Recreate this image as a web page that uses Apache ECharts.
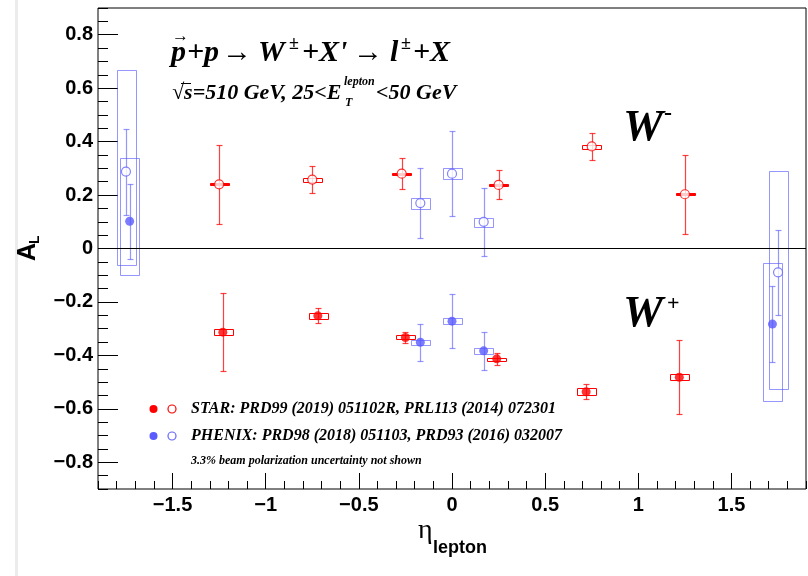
<!DOCTYPE html>
<html>
<head>
<meta charset="utf-8">
<script src="https://cdn.jsdelivr.net/npm/echarts@6/dist/echarts.min.js"></script>
<style>
  html, body { margin: 0; padding: 0; background: #fff; }
  #chart { width: 808px; height: 576px; }
</style>
</head>
<body>
<div id="chart"></div>
<script>
  // STAR W- (open red)
  var starWmEta = [-1.25, -0.75, -0.27, 0.25, 0.75, 1.25];
  var starWmAL = [0.240, 0.258, 0.280, 0.238, 0.382, 0.203];
  var starWmStat = [0.147, 0.051, 0.057, 0.054, 0.051, 0.148];
  var starWmSys = [0.004, 0.007, 0.004, 0.004, 0.007, 0.004];

  // STAR W+ (filled red)
  var starWpEta = [-1.23, -0.72, -0.25, 0.24, 0.72, 1.22];
  var starWpAL = [-0.313, -0.252, -0.333, -0.413, -0.536, -0.482];
  var starWpStat = [0.146, 0.028, 0.022, 0.022, 0.028, 0.138];
  var starWpSys = [0.012, 0.011, 0.008, 0.005, 0.014, 0.012];

  // PHENIX W- (open blue)
  var phxWmEta = [-1.75, -0.17, 0.0, 0.17, 1.75];
  var phxWmAL = [0.288, 0.170, 0.280, 0.100, -0.089];
  var phxWmStat = [0.161, 0.130, 0.160, 0.128, 0.158];
  var phxWmSysUp = [0.381, 0.020, 0.020, 0.016, 0.379];
  var phxWmSysDn = [0.348, 0.020, 0.020, 0.016, 0.437];

  // PHENIX W+ (filled blue)
  var phxWpEta = [-1.73, -0.17, 0.0, 0.17, 1.72];
  var phxWpAL = [0.102, -0.351, -0.272, -0.383, -0.283];
  var phxWpStat = [0.141, 0.070, 0.100, 0.070, 0.141];
  var phxWpSysUp = [0.238, 0.010, 0.011, 0.011, 0.229];
  var phxWpSysDn = [0.199, 0.010, 0.011, 0.011, 0.287];

  var boxHalfWidth = 0.05;
  var xTickLabels = [-1.5, -1, -0.5, 0, 0.5, 1, 1.5];
  var yTickLabels = [-0.8, -0.6, -0.4, -0.2, 0, 0.2, 0.4, 0.6, 0.8];

  var red = '#ff0000';
  var redLine = 'rgba(255,0,0,0.75)';
  var blueFill = '#5a5aff';
  var blueLine = 'rgba(80,80,255,0.6)';

  var chart = echarts.init(document.getElementById('chart'));

  function rows(eta, al, stat, up, dn) {
    return eta.map(function (e, i) { return [e, al[i], stat[i], up[i], dn[i]]; });
  }
  function pts(eta, al) {
    return eta.map(function (e, i) { return [e, al[i]]; });
  }

  function errItem(lineColor, boxColor) {
    return function (params, api) {
      var eta = api.value(0), al = api.value(1), st = api.value(2), up = api.value(3), dn = api.value(4);
      var p = api.coord([eta, al]);
      var t = api.coord([eta, al + st]);
      var b = api.coord([eta, al - st]);
      var b1 = api.coord([eta - boxHalfWidth, al + up]);
      var b2 = api.coord([eta + boxHalfWidth, al - dn]);
      var x = Math.round(p[0]) + 0.5;
      var ty = Math.round(t[1]) + 0.5, by = Math.round(b[1]) + 0.5;
      var cap = 3;
      var bh = Math.max(1, Math.round(b2[1] - b1[1]));
      return {
        type: 'group',
        children: [
          { type: 'rect', shape: { x: Math.round(b1[0]) + 0.5, y: Math.round(b1[1]) + 0.5,
              width: Math.round(b2[0] - b1[0]), height: bh },
            style: { fill: bh <= 2 ? boxColor : 'none', stroke: boxColor, lineWidth: 1 } },
          { type: 'line', shape: { x1: x, y1: ty, x2: x, y2: by }, style: { stroke: lineColor, lineWidth: 1.2 } },
          { type: 'line', shape: { x1: x - cap, y1: ty, x2: x + cap, y2: ty }, style: { stroke: lineColor, lineWidth: 1.2 } },
          { type: 'line', shape: { x1: x - cap, y1: by, x2: x + cap, y2: by }, style: { stroke: lineColor, lineWidth: 1.2 } }
        ]
      };
    };
  }

  var serif = '"Liberation Serif", "Times New Roman", serif';
  var sans = '"Liberation Sans", Arial, sans-serif';
  var minus = function (v) { return String(v).replace('-', '\u2212'); };

  function txt(s, x, y, font) {
    return { type: 'text', x: x, y: y, z: 10, style: { text: s, font: font, fill: '#000', verticalAlign: 'middle' } };
  }
  var tBig = 'italic bold 30px ' + serif;
  var tSup = 'italic bold 18px ' + serif;
  var tMid = 'italic bold 22px ' + serif;

  var option = {
    animation: false,
    grid: { left: 98, right: 2, top: 8, bottom: 87, show: true, borderColor: '#000', borderWidth: 1, containLabel: false },
    xAxis: [{
      type: 'value', min: -1.9, max: 1.9, interval: 0.1, position: 'bottom',
      axisLine: { show: false, onZero: false },
      axisTick: { show: true, inside: true, length: 8, lineStyle: { color: '#000' } },
      axisLabel: { customValues: xTickLabels, formatter: minus, margin: 6,
        fontFamily: sans, fontWeight: 'bold', fontSize: 20, color: '#000' },
      splitLine: { show: false }
    }, {
      type: 'value', min: -1.9, max: 1.9, position: 'bottom',
      axisLine: { show: false, onZero: false },
      axisTick: { show: true, inside: true, length: 16, customValues: xTickLabels, lineStyle: { color: '#000' } },
      axisLabel: { show: false },
      splitLine: { show: false }
    }],
    yAxis: [{
      type: 'value', min: -0.9, max: 0.9, interval: 0.05, position: 'left',
      axisLine: { show: false, onZero: false },
      axisTick: { show: true, inside: true, length: 10, lineStyle: { color: '#000' } },
      axisLabel: { customValues: yTickLabels, formatter: minus, margin: 5,
        fontFamily: sans, fontWeight: 'bold', fontSize: 20, color: '#000' },
      splitLine: { show: false }
    }, {
      type: 'value', min: -0.9, max: 0.9, position: 'left', offset: 0,
      axisLine: { show: false, onZero: false },
      axisTick: { show: true, inside: true, length: 20, customValues: yTickLabels, lineStyle: { color: '#000' } },
      axisLabel: { show: false },
      splitLine: { show: false }
    }],
    series: [
      { type: 'custom', name: 'PHENIX W- err', renderItem: errItem(blueLine, blueLine),
        data: rows(phxWmEta, phxWmAL, phxWmStat, phxWmSysUp, phxWmSysDn), z: 2,
        markLine: { silent: true, symbol: 'none', label: { show: false },
          lineStyle: { color: '#000', width: 1, type: 'solid' }, data: [{ yAxis: 0 }] } },
      { type: 'custom', name: 'PHENIX W+ err', renderItem: errItem(blueLine, blueLine),
        data: rows(phxWpEta, phxWpAL, phxWpStat, phxWpSysUp, phxWpSysDn), z: 2 },
      { type: 'custom', name: 'STAR W- err', renderItem: errItem(redLine, red),
        data: rows(starWmEta, starWmAL, starWmStat, starWmSys, starWmSys), z: 3 },
      { type: 'custom', name: 'STAR W+ err', renderItem: errItem(redLine, red),
        data: rows(starWpEta, starWpAL, starWpStat, starWpSys, starWpSys), z: 3 },
      { type: 'scatter', name: 'PHENIX W-', symbol: 'circle', symbolSize: 9, z: 5,
        itemStyle: { color: '#fff', borderColor: '#6464ff', borderWidth: 1.2 }, data: pts(phxWmEta, phxWmAL) },
      { type: 'scatter', name: 'PHENIX W+', symbol: 'circle', symbolSize: 9, z: 5,
        itemStyle: { color: blueFill }, data: pts(phxWpEta, phxWpAL) },
      { type: 'scatter', name: 'STAR W-', symbol: 'circle', symbolSize: 9, z: 6,
        itemStyle: { color: '#fff', borderColor: red, borderWidth: 1.2 }, data: pts(starWmEta, starWmAL) },
      { type: 'scatter', name: 'STAR W+', symbol: 'circle', symbolSize: 9, z: 6,
        itemStyle: { color: red }, data: pts(starWpEta, starWpAL) }
    ],
    graphic: [
      // page shadow on the left
      { type: 'rect', shape: { x: 15, y: 0, width: 3, height: 576 }, style: { fill: '#ececec' }, z: -1 },
      // title line 1
      txt('\u2192', 172, 37, 'bold 17px ' + serif),
      txt('p', 171, 53, tBig),
      txt('+p', 187, 53, tBig),
      txt('\u2192', 222, 53, 'bold 30px ' + serif),
      txt('W', 258, 53, tBig),
      txt('\u00b1', 289, 44, tSup),
      txt('+X\'', 302, 53, tBig),
      txt('\u2192', 353, 53, 'bold 30px ' + serif),
      txt('l', 390, 53, tBig),
      txt('\u00b1', 401, 44, tSup),
      txt('+X', 413, 53, tBig),
      // title line 2
      txt('\u221as=510 GeV, 25<E', 172, 93, tMid),
      { type: 'line', shape: { x1: 181, y1: 83.5, x2: 191, y2: 83.5 }, style: { stroke: '#000', lineWidth: 1 }, z: 10 },
      txt('lepton', 344, 82, 'italic bold 12px ' + serif),
      txt('T', 345, 103, 'italic bold 12px ' + serif),
      txt('<50 GeV', 376, 93, tMid),
      // W labels
      txt('W', 623, 128, 'italic bold 45px ' + serif),
      txt('-', 664, 114, 'bold 24px ' + serif),
      txt('W', 623, 314, 'italic bold 45px ' + serif),
      txt('+', 667, 304, 'bold 22px ' + serif),
      // legend
      { type: 'circle', shape: { cx: 153.5, cy: 409, r: 4 }, style: { fill: red }, z: 10 },
      { type: 'circle', shape: { cx: 172, cy: 409, r: 4 }, style: { fill: '#fff', stroke: red, lineWidth: 1.2 }, z: 10 },
      txt('STAR: PRD99 (2019) 051102R, PRL113 (2014) 072301', 191, 409, 'italic bold 16px ' + serif),
      { type: 'circle', shape: { cx: 153.5, cy: 436, r: 4 }, style: { fill: blueFill }, z: 10 },
      { type: 'circle', shape: { cx: 172, cy: 436, r: 4 }, style: { fill: '#fff', stroke: '#6464ff', lineWidth: 1.2 }, z: 10 },
      txt('PHENIX: PRD98 (2018) 051103, PRD93 (2016) 032007', 191, 436, 'italic bold 16px ' + serif),
      txt('3.3% beam polarization uncertainty not shown', 191, 461, 'italic bold 12px ' + serif),
      // y axis title A_L
      { type: 'group', x: 28, y: 261, rotation: Math.PI / 2, z: 10, children: [
        { type: 'text', x: 0, y: 0, style: { text: 'A', font: 'bold 25px ' + sans, fill: '#000', verticalAlign: 'middle' } },
        { type: 'text', x: 17, y: 7, style: { text: 'L', font: 'bold 14px ' + sans, fill: '#000', verticalAlign: 'middle' } }
      ] },
      // x axis title eta_lepton
      txt('\u03b7', 418, 531, '28px ' + serif),
      txt('lepton', 433, 548, 'bold 18px ' + sans)
    ]
  };

  chart.setOption(option);
</script>
</body>
</html>
